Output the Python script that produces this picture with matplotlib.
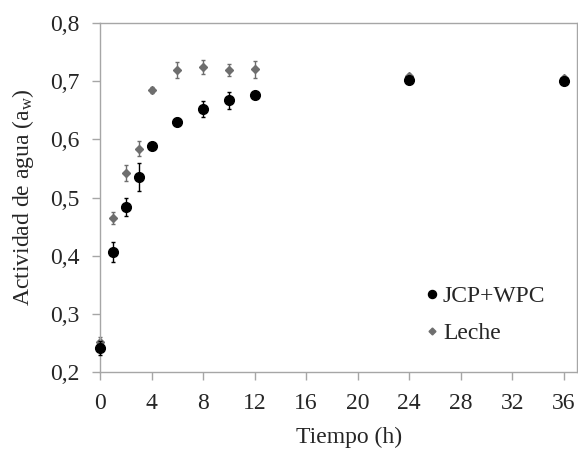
import matplotlib

matplotlib.use("Agg")
from matplotlib import pyplot as plt
from matplotlib import rcParams
from matplotlib.lines import Line2D
from matplotlib.ticker import FuncFormatter

rcParams["font.family"] = "Liberation Serif"
rcParams["mathtext.fontset"] = "custom"
rcParams["mathtext.rm"] = "Liberation Serif"
rcParams["mathtext.it"] = "Liberation Serif:italic"

GREY = "#a6a6a6"
TXT = "#262626"
FS = 17

# tiempo (h)
tiempo = [0, 1, 2, 3, 4, 6, 8, 10, 12, 24, 36]
# actividad de agua, JCP+WPC
jcp = [0.241, 0.407, 0.484, 0.535, 0.588, 0.630, 0.652, 0.667, 0.677, 0.702, 0.701]
jcp_err = [0.012, 0.017, 0.015, 0.024, 0.005, 0.006, 0.013, 0.015, 0.003, 0.003, 0.003]
# actividad de agua, Leche
leche = [0.252, 0.465, 0.542, 0.584, 0.685, 0.719, 0.725, 0.719, 0.720, 0.709, 0.705]
leche_err = [0.008, 0.010, 0.014, 0.013, 0.005, 0.013, 0.012, 0.010, 0.015, 0.004, 0.004]

xticks = list(range(0, 37, 4))
yticks = [0.2, 0.3, 0.4, 0.5, 0.6, 0.7, 0.8]

fig = plt.figure(figsize=(5.78, 4.49), dpi=100)
ax = fig.add_axes([0.173, 0.171, 0.825, 0.778])

ax.errorbar(
    tiempo,
    jcp,
    yerr=jcp_err,
    fmt="o",
    color="black",
    ms=7,
    elinewidth=1,
    capsize=1.5,
    clip_on=False,
    zorder=3,
)
ax.errorbar(
    tiempo,
    leche,
    yerr=leche_err,
    fmt="D",
    color="#6e6e6e",
    ms=4.5,
    elinewidth=1,
    capsize=1.5,
    clip_on=False,
    zorder=2,
)

ax.set_xlim(0, 37)
ax.set_ylim(0.2, 0.8)
ax.set_xticks(xticks)
ax.set_yticks(yticks)
ax.yaxis.set_major_formatter(FuncFormatter(lambda v, p: f"{v:.1f}".replace(".", ",")))
ax.tick_params(direction="out", length=5.8, width=1, color=GREY, labelsize=FS,
               labelcolor=TXT, pad=9)
for s in ax.spines.values():
    s.set_color(GREY)
    s.set_linewidth(1)

ax.set_xlabel("Tiempo (h)", fontsize=FS, color=TXT)
ax.set_ylabel(r"Actividad de agua (a$_\mathrm{w}$)", fontsize=FS, color=TXT)
ax.xaxis.set_label_coords(0.522, -0.155)
ax.yaxis.set_label_coords(-0.135, 0.5)

handles = [
    Line2D([], [], ls="none", marker="o", color="black", ms=5.8),
    Line2D([], [], ls="none", marker="D", color="#6e6e6e", ms=3.5),
]
ax.legend(
    handles,
    ["JCP+WPC", "Leche"],
    loc="upper left",
    bbox_to_anchor=(0.681, 0.248),
    frameon=False,
    fontsize=FS,
    borderpad=0,
    borderaxespad=0,
    handletextpad=0.17,
    handlelength=0.6,
    labelspacing=0.65,
    labelcolor=TXT,
)

fig.savefig("out.png", dpi=100)
